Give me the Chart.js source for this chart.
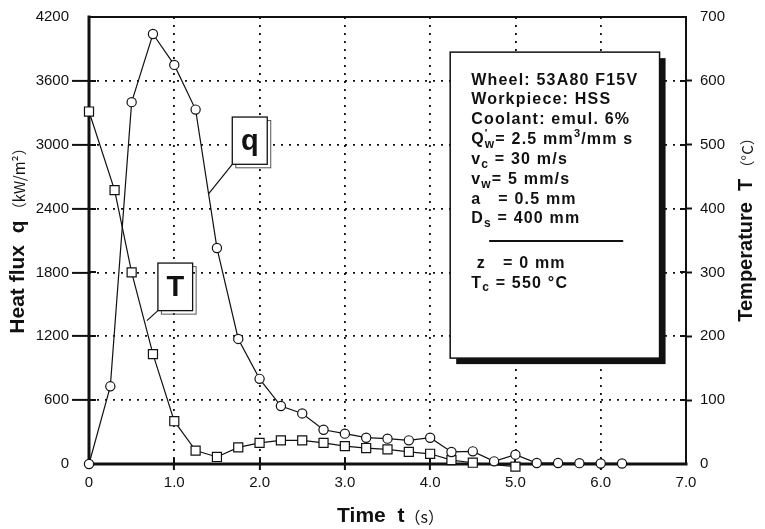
<!DOCTYPE html>
<html>
<head>
<meta charset="utf-8">
<script src="https://cdn.jsdelivr.net/npm/chart.js@4.4.1/dist/chart.umd.min.js"></script>
<style>
  html, body { margin: 0; padding: 0; background: #fff; }
  #wrap { width: 765px; height: 529px; }
</style>
</head>
<body>
<div id="wrap"><canvas id="chart" width="765" height="529"></canvas></div>
<script>
// heat flux q, kW/m2 (circles)
const qTime = [0, 0.25, 0.5, 0.75, 1.0, 1.25, 1.5, 1.75, 2.0, 2.25, 2.5, 2.75, 3.0, 3.25, 3.5, 3.75, 4.0, 4.25, 4.5, 4.75, 5.0, 5.25, 5.5, 5.75, 6.0, 6.25];
const qFlux = [0, 730, 3400, 4040, 3750, 3330, 2030, 1175, 800, 545, 475, 322, 285, 247, 238, 222, 247, 113, 119, 25, 88, 9, 9, 8, 5, 5];

// temperature T, deg C (squares)
const tTime = [0, 0.3, 0.5, 0.75, 1.0, 1.25, 1.5, 1.75, 2.0, 2.25, 2.5, 2.75, 3.0, 3.25, 3.5, 3.75, 4.0, 4.25, 4.5, 5.0];
const tTemp = [552, 429, 300, 172, 67, 21, 11, 26, 33, 37, 37, 33, 28, 25, 23, 19, 16, 6, 2, -4];

const xTicks = [0, 1, 2, 3, 4, 5, 6, 7];
const qTicks = [0, 600, 1200, 1800, 2400, 3000, 3600, 4200];
const tTicks = [0, 100, 200, 300, 400, 500, 600, 700];

// text of the parameter box
const specTop = [
  [{t: 'Wheel: 53A80 F15V'}],
  [{t: 'Workpiece: HSS'}],
  [{t: 'Coolant: emul. 6%'}],
  [{t: 'Q'}, {t: '\'', k: 'sup', stay: true}, {t: 'w', k: 'sub'}, {t: '= 2.5 mm'}, {t: '3', k: 'sup'}, {t: '/mm s'}],
  [{t: 'v'}, {t: 'c', k: 'sub'}, {t: ' = 30 m/s'}],
  [{t: 'v'}, {t: 'w', k: 'sub'}, {t: '= 5 mm/s'}],
  [{t: 'a   = 0.5 mm'}],
  [{t: 'D'}, {t: 's', k: 'sub'}, {t: ' = 400 mm'}]
];
const specBottom = [
  [{t: ' z   = 0 mm'}],
  [{t: 'T'}, {t: 'c', k: 'sub'}, {t: ' = 550 °C'}]
];

const INK = '#111';
const SANS = '"Liberation Sans", Arial, sans-serif';
const CJK = '"Noto Sans CJK JP", sans-serif';

function drawParts(ctx, parts, cx, cy) {
  let w = 0;
  parts.forEach(p => { ctx.font = p.font; w += ctx.measureText(p.t).width; });
  let x = cx - w / 2;
  ctx.textAlign = 'left';
  ctx.textBaseline = 'middle';
  parts.forEach(p => {
    ctx.font = p.font;
    ctx.fillText(p.t, x, cy + (p.dy || 0));
    x += ctx.measureText(p.t).width;
  });
}

function drawRich(ctx, segs, x, y) {
  ctx.textAlign = 'left';
  ctx.textBaseline = 'middle';
  segs.forEach(s => {
    let dy = 0;
    if (s.k === 'sub') { ctx.font = 'bold 12px ' + SANS; dy = 5; }
    else if (s.k === 'sup') { ctx.font = 'bold 11px ' + SANS; dy = -6; }
    else { ctx.font = 'bold 16px ' + SANS; }
    ctx.fillText(s.t, x, y + dy);
    if (!s.stay) x += ctx.measureText(s.t).width;
  });
}

function callout(ctx, label, x0, y0, x1, y1, lx, ly) {
  // leader
  ctx.strokeStyle = INK;
  ctx.lineWidth = 1.2;
  ctx.beginPath();
  ctx.moveTo(x0, y1);
  ctx.lineTo(lx, ly);
  ctx.stroke();
  // shadow outline
  ctx.strokeStyle = '#555';
  ctx.lineWidth = 1;
  ctx.strokeRect(x0 + 3.5, y0 + 3.5, x1 - x0, y1 - y0);
  ctx.fillStyle = '#fff';
  ctx.fillRect(x0, y0, x1 - x0, y1 - y0);
  ctx.strokeStyle = INK;
  ctx.lineWidth = 1.3;
  ctx.strokeRect(x0, y0, x1 - x0, y1 - y0);
  ctx.fillStyle = INK;
  ctx.font = 'bold 29px ' + SANS;
  ctx.textAlign = 'center';
  ctx.textBaseline = 'middle';
  ctx.fillText(label, (x0 + x1) / 2, (y0 + y1) / 2 + 1);
}

const decor = {
  id: 'decor',
  beforeDatasetsDraw(chart) {
    const {ctx, chartArea: a, scales: {x, yq, yt}} = chart;
    ctx.save();

    // parameter box
    const bx0 = x.getPixelForValue(4.235), bx1 = x.getPixelForValue(6.69);
    const by0 = yq.getPixelForValue(3870), by1 = yq.getPixelForValue(995);
    ctx.fillStyle = INK;
    ctx.fillRect(bx0 + 6, by0 + 6, bx1 - bx0, by1 - by0);
    ctx.fillStyle = '#fff';
    ctx.fillRect(bx0, by0, bx1 - bx0, by1 - by0);
    ctx.strokeStyle = INK;
    ctx.lineWidth = 1.5;
    ctx.strokeRect(bx0, by0, bx1 - bx0, by1 - by0);
    ctx.fillStyle = INK;
    if ('letterSpacing' in ctx) ctx.letterSpacing = '1.2px';
    specTop.forEach((row, i) => drawRich(ctx, row, bx0 + 21, by0 + 28 + i * 19.85));
    specBottom.forEach((row, i) => drawRich(ctx, row, bx0 + 21, by0 + 211 + i * 20));
    if ('letterSpacing' in ctx) ctx.letterSpacing = '0px';
    ctx.lineWidth = 2;
    ctx.beginPath();
    ctx.moveTo(bx0 + 39, by0 + 189);
    ctx.lineTo(bx0 + 173, by0 + 189);
    ctx.stroke();

    // callouts
    callout(ctx, 'q',
      x.getPixelForValue(1.68), yq.getPixelForValue(3260),
      x.getPixelForValue(2.09), yq.getPixelForValue(2816),
      x.getPixelForValue(1.404), yq.getPixelForValue(2541));
    callout(ctx, 'T',
      x.getPixelForValue(0.808), yq.getPixelForValue(1888),
      x.getPixelForValue(1.215), yq.getPixelForValue(1441),
      x.getPixelForValue(0.679), yq.getPixelForValue(1347));

    // tick stubs inside the frame
    ctx.strokeStyle = INK;
    ctx.lineWidth = 2;
    ctx.beginPath();
    qTicks.slice(1, -1).forEach(v => {
      const y = Math.round(yq.getPixelForValue(v));
      ctx.moveTo(a.left, y); ctx.lineTo(a.left + 7, y);
    });
    tTicks.slice(1, -1).forEach(v => {
      const y = Math.round(yt.getPixelForValue(v));
      ctx.moveTo(a.right, y); ctx.lineTo(a.right - 6, y);
    });
    xTicks.slice(1, -1).forEach(v => {
      const px = Math.round(x.getPixelForValue(v));
      ctx.moveTo(px, a.bottom); ctx.lineTo(px, a.bottom - 6);
    });
    ctx.stroke();

    // frame
    ctx.lineCap = 'square';
    ctx.lineWidth = 2;
    ctx.beginPath();
    ctx.moveTo(a.left, a.top); ctx.lineTo(a.right, a.top); ctx.lineTo(a.right, a.bottom);
    ctx.stroke();
    ctx.lineWidth = 3;
    ctx.beginPath();
    ctx.moveTo(a.left, a.top); ctx.lineTo(a.left, a.bottom); ctx.lineTo(a.right, a.bottom);
    ctx.stroke();
    ctx.restore();
  },
  afterDraw(chart) {
    const {ctx, chartArea: a} = chart;
    ctx.save();
    ctx.fillStyle = INK;
    // bottom title
    drawParts(ctx, [
      {t: 'Time  t', font: 'bold 21px ' + SANS},
      {t: '（s）', font: '16px ' + CJK, dy: 1}
    ], (a.left + a.right) / 2 + 3, 516);
    // left title
    ctx.save();
    ctx.translate(18, 237);
    ctx.rotate(-Math.PI / 2);
    drawParts(ctx, [
      {t: 'Heat flux  q', font: 'bold 21px ' + SANS},
      {t: ' （kW/m²）', font: '15px ' + CJK, dy: 1}
    ], 0, 0);
    ctx.restore();
    // right title
    ctx.save();
    ctx.translate(746, 226);
    ctx.rotate(-Math.PI / 2);
    drawParts(ctx, [
      {t: 'Temperature  T', font: 'bold 20px ' + SANS},
      {t: ' （°C）', font: '15px ' + CJK, dy: 1}
    ], 0, 0);
    ctx.restore();
    ctx.restore();
  }
};

const inner = (list) => (c) => {
  const v = c.tick ? c.tick.value : null;
  return (v !== null && v !== list[0] && v !== list[list.length - 1]) ? INK : 'rgba(0,0,0,0)';
};

new Chart(document.getElementById('chart'), {
  type: 'line',
  data: {
    datasets: [
      {
        label: 'q',
        yAxisID: 'yq',
        data: qTime.map((t, i) => ({x: t, y: qFlux[i]})),
        borderColor: INK,
        borderWidth: 1.2,
        pointStyle: 'circle',
        pointRadius: 4.6,
        pointBackgroundColor: '#fff',
        pointBorderColor: INK,
        pointBorderWidth: 1.2,
        tension: 0,
        clip: false
      },
      {
        label: 'T',
        yAxisID: 'yt',
        data: tTime.map((t, i) => ({x: t, y: tTemp[i]})),
        borderColor: INK,
        borderWidth: 1.2,
        pointStyle: 'rect',
        pointRadius: 6.4,
        pointBackgroundColor: '#fff',
        pointBorderColor: INK,
        pointBorderWidth: 1.2,
        tension: 0,
        clip: false
      }
    ]
  },
  options: {
    responsive: false,
    animation: false,
    devicePixelRatio: 1,
    layout: { padding: { top: 15, left: 0, right: 0, bottom: 0 } },
    plugins: { legend: { display: false }, tooltip: { enabled: false } },
    scales: {
      x: {
        type: 'linear',
        min: 0,
        max: 7,
        afterBuildTicks: s => { s.ticks = xTicks.map(v => ({value: v})); },
        afterFit: s => { s.height = 65; },
        ticks: {
          color: INK,
          font: { family: SANS, size: 15 },
          padding: 4,
          maxRotation: 0,
          callback: v => v === 0 ? '0' : v.toFixed(1)
        },
        grid: {
          color: inner(xTicks),
          lineWidth: 1.8,
          tickColor: inner(xTicks),
          tickLength: 6,
          tickWidth: 2,
          tickBorderDash: []
        },
        border: { display: false, dash: [2, 6] }
      },
      yq: {
        position: 'left',
        min: 0,
        max: 4200,
        afterBuildTicks: s => { s.ticks = qTicks.map(v => ({value: v})); },
        afterFit: s => { s.width = 89; },
        ticks: {
          color: INK,
          font: { family: SANS, size: 15 },
          padding: 3,
          callback: v => String(v)
        },
        grid: {
          color: inner(qTicks),
          lineWidth: 1.8,
          tickColor: inner(qTicks),
          tickLength: 17,
          tickWidth: 2,
          tickBorderDash: []
        },
        border: { display: false, dash: [2, 6] }
      },
      yt: {
        position: 'right',
        min: 0,
        max: 700,
        afterBuildTicks: s => { s.ticks = tTicks.map(v => ({value: v})); },
        afterFit: s => { s.width = 79; },
        ticks: {
          color: INK,
          font: { family: SANS, size: 15 },
          padding: 8,
          callback: v => String(v)
        },
        grid: {
          drawOnChartArea: false,
          tickColor: inner(tTicks),
          tickLength: 6,
          tickWidth: 2
        },
        border: { display: false }
      }
    }
  },
  plugins: [decor]
});
</script>
</body>
</html>
